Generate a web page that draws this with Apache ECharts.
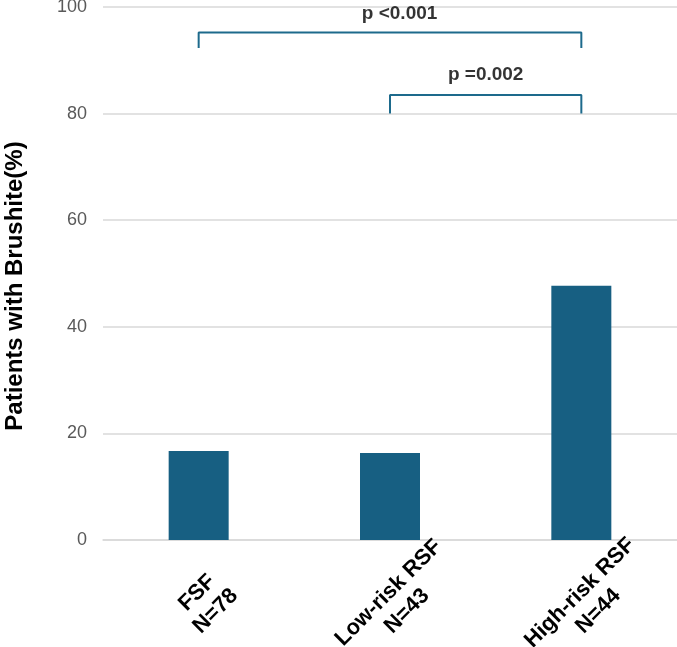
<!DOCTYPE html>
<html>
<head>
<meta charset="utf-8">
<script src="https://cdn.jsdelivr.net/npm/echarts@6/dist/echarts.min.js"></script>
<style>
html,body{margin:0;padding:0;background:#fff;}
#chart{width:677px;height:647px;}
</style>
</head>
<body>
<div id="chart"></div>
<script>
const categories = ['FSF\nN=78', 'Low-risk RSF\nN=43', 'High-risk RSF\nN=44'];
const brushitePct = [16.7, 16.3, 47.7];
const yTicks = [0, 20, 40, 60, 80, 100];
// significance brackets
const bracketFrom = [0, 1];
const bracketTo = [2, 2];
const bracketLeg = [92.3, 80.0];
const bracketTop = [95.2, 83.5];
const bracketLabelX = [1.05, 1.5];
const bracketLabelY = [98.7, 87.2];
const bracketLabels = ['p <0.001', 'p =0.002'];

const BAR = '#175f82';
const FONT = 'Liberation Sans, Arial, sans-serif';
const chart = echarts.init(document.getElementById('chart'), null, {renderer: 'canvas'});

const bracketSeries = bracketFrom.map((f, i) => ({
  type: 'line',
  xAxisIndex: 1,
  yAxisIndex: 0,
  symbol: 'none',
  silent: true,
  lineStyle: {color: '#1d6a8c', width: 2},
  data: [[f, bracketLeg[i]], [f, bracketTop[i]], [bracketTo[i], bracketTop[i]], [bracketTo[i], bracketLeg[i]]],
  z: 5
}));

const labelSeries = {
  type: 'scatter',
  xAxisIndex: 1,
  yAxisIndex: 0,
  symbolSize: 0,
  silent: true,
  data: bracketLabels.map((t, i) => ({
    value: [bracketLabelX[i], bracketLabelY[i]],
    label: {
      show: true, position: 'inside', formatter: t,
      fontFamily: FONT, fontWeight: 'bold', fontSize: 19, color: '#000'
    }
  }))
};

chart.setOption({
  animation: false,
  grid: {left: 103, right: 0, top: 7, bottom: 107, containLabel: false, outerBoundsMode: 'none'},
  xAxis: [{
    type: 'category',
    data: categories,
    axisLine: {show: true, lineStyle: {color: '#d9d9d9', width: 1.5}},
    axisTick: {show: false},
    axisLabel: {
      rotate: 45,
      interval: 0,
      align: 'center',
      verticalAlign: 'middle',
      margin: 62,
      padding: [11, 0, 0, 11],
      formatter: v => v.split('\n').map(s => '{c|' + s + '}').join('\n'),
      rich: {c: {align: 'center', fontFamily: FONT, fontWeight: 'bold', fontSize: 22, color: '#000', lineHeight: 26}}
    }
  }, {
    type: 'value',
    min: -0.5, max: 2.5,
    show: false
  }],
  yAxis: {
    type: 'value',
    min: 0, max: 100, interval: 20,
    name: 'Patients with Brushite(%)',
    nameLocation: 'middle',
    nameGap: 76,
    nameTextStyle: {fontFamily: FONT, fontWeight: 'bold', fontSize: 24, color: '#000', padding: [0, 25, 0, 0]},
    axisLine: {show: false},
    axisTick: {show: false},
    axisLabel: {
      margin: 16,
      fontFamily: FONT,
      fontSize: 18,
      color: '#595959',
      formatter: v => yTicks.includes(v) ? String(v) : ''
    },
    splitLine: {show: true, lineStyle: {color: '#d9d9d9', width: 1.5}}
  },
  series: [{
    type: 'bar',
    data: brushitePct,
    barWidth: 60,
    itemStyle: {color: BAR}
  }].concat(bracketSeries, [labelSeries])
});
</script>
</body>
</html>
